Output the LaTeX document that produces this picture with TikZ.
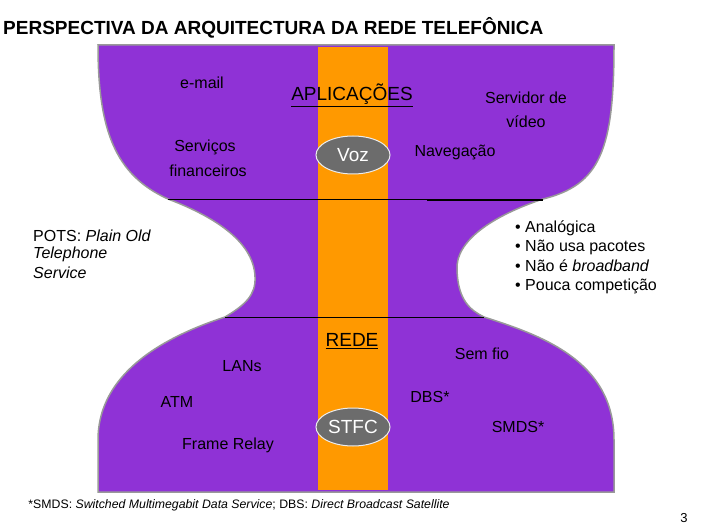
\documentclass[tikz,border=0pt]{standalone}
\usepackage{fontspec}
\setmainfont{Liberation Sans}
\usetikzlibrary{shapes.geometric}
\begin{document}
\begin{tikzpicture}[x=1pt,y=-1pt,
  lbl/.style={font=\fontsize{16}{18}\selectfont, text=black, inner sep=0},
  oval/.style={ellipse, draw=white!85!gray, line width=1pt, fill=gray!85!black, text=white, minimum width=74, minimum height=38, inner sep=0, font=\fontsize{19}{20}\selectfont}]
\useasboundingbox (0,0) rectangle (706,529);
\definecolor{purp}{RGB}{143,50,214}
\definecolor{orng}{RGB}{255,153,0}
\draw[fill=purp, draw=gray!80, line width=1.5pt]
  (98,45) -- (614,45)
  .. controls (614,150) and (600,185) .. (543,199)
  .. controls (495,215) and (455,240) .. (457,270)
  .. controls (458,300) and (470,310) .. (484,317)
  .. controls (540,335) and (614,360) .. (614,440)
  -- (614,492) -- (98,492) -- (98,440)
  .. controls (98,370) and (170,335) .. (225,317)
  .. controls (245,305) and (256,295) .. (255,277)
  .. controls (254,240) and (210,215) .. (168,199)
  .. controls (115,175) and (98,130) .. (98,45) -- cycle;
\fill[orng] (318,47) rectangle (388,490);
\draw[line width=0.6pt] (168,199) -- (543,199);
\draw[line width=1.2pt] (427,200) -- (543,200);
\draw[line width=0.6pt] (225,317) -- (484,317);
\node[oval] (voz) at (353,155) {Voz};
\node[oval] (stfc) at (353,427) {STFC};
\node[font=\bfseries\fontsize{19}{21}\selectfont, anchor=west, inner sep=0] (title) at (3,28) {PERSPECTIVA DA ARQUITECTURA DA REDE TELEFÔNICA};
\node[lbl] (email) at (202,83) {e-mail};
\node[lbl, font=\fontsize{19}{21}\selectfont] (apl) at (352,95) {\underline{APLICAÇÕES}};
\node[lbl] (serv1) at (526,98) {Servidor de};
\node[lbl] (serv2) at (526,122) {vídeo};
\node[lbl] (sf1) at (205,147) {Serviços};
\node[lbl] (sf2) at (208,171) {financeiros};
\node[lbl] (nav) at (455,152) {Navegação};
\node[lbl, anchor=west] (p1) at (33,236) {POTS: \textit{Plain Old}};
\node[lbl, anchor=west] (p2) at (33,254) {\textit{Telephone}};
\node[lbl, anchor=west] (p3) at (33,273) {\textit{Service}};
\node[lbl, anchor=west] (b1) at (515,228) {• Analógica};
\node[lbl, anchor=west] (b2) at (515,247) {• Não usa pacotes};
\node[lbl, anchor=west] (b3) at (515,266) {• Não é \textit{broadband}};
\node[lbl, anchor=west] (b4) at (515,286) {• Pouca competição};
\node[lbl, font=\fontsize{19}{21}\selectfont] (rede) at (352,341) {\underline{REDE}};
\node[lbl] (semfio) at (482,354) {Sem fio};
\node[lbl] (lans) at (242,366) {LANs};
\node[lbl] (atm) at (177,402) {ATM};
\node[lbl] (dbs) at (430,397) {DBS*};
\node[lbl] (smds) at (518,427) {SMDS*};
\node[lbl] (fr) at (228,445) {Frame Relay};
\node[lbl, font=\fontsize{12.3}{14}\selectfont] (foot) at (239,505) {*SMDS: \textit{Switched Multimegabit Data Service}; DBS: \textit{Direct Broadcast Satellite}};
\node[lbl, font=\fontsize{13}{14}\selectfont] (pg) at (684,518) {3};
\end{tikzpicture}
\end{document}
